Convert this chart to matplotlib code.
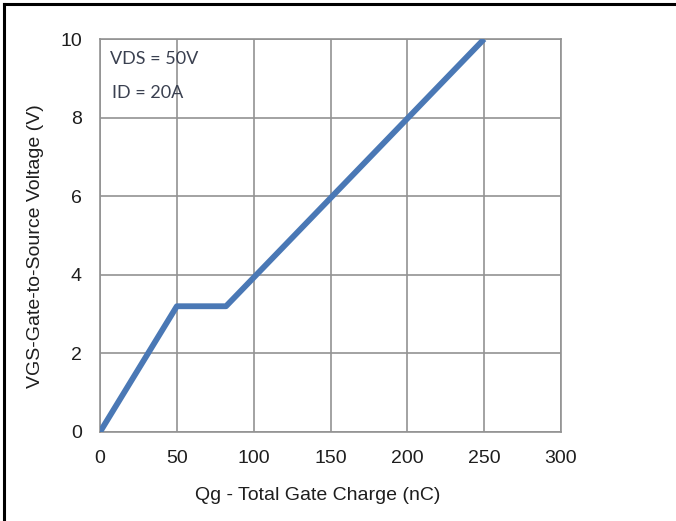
import matplotlib.pyplot as plt
from matplotlib.lines import Line2D

# Gate charge curve (Qg in nC, VGS in V)
qg = [0, 50, 82, 250]
vgs = [0, 3.2, 3.2, 10]

x_ticks = [0, 50, 100, 150, 200, 250, 300]
y_ticks = [0, 2, 4, 6, 8, 10]

conditions = ["VDS = 50V", "ID = 20A"]

plt.rcParams["font.family"] = ["Liberation Sans", "DejaVu Sans"]

fig = plt.figure(figsize=(6.76, 5.21), dpi=100)
ax = fig.add_axes([100 / 676, 89 / 521, 461 / 676, 393 / 521])

ax.plot(qg, vgs, color="#4a78b5", linewidth=4.2, solid_capstyle="butt", zorder=3)

ax.set_xlim(0, 300)
ax.set_ylim(0, 10)
ax.set_xticks(x_ticks)
ax.set_yticks(y_ticks)
ax.grid(True, color="#929292", linewidth=1.2)
ax.set_axisbelow(True)
for spine in ax.spines.values():
    spine.set_color("#929292")
    spine.set_linewidth(1.2)
ax.tick_params(length=0, labelsize=14, labelcolor="#1e1e1e")
ax.tick_params(axis="x", pad=13)
ax.tick_params(axis="y", pad=13)

ax.set_xlabel("Qg - Total Gate Charge (nC)", fontsize=14, color="#1e1e1e")
ax.set_ylabel("VGS-Gate-to-Source Voltage (V)", fontsize=14, color="#1e1e1e")
ax.xaxis.set_label_coords(0.473, -0.14)
ax.yaxis.set_label_coords(-0.121, 0.473)

ax.text(0.022, 0.95, conditions[0], transform=ax.transAxes, fontsize=13,
        family=["Lato", "DejaVu Sans"], color="#3a4050", va="center")
ax.text(0.026, 0.862, conditions[1], transform=ax.transAxes, fontsize=13,
        family=["Lato", "DejaVu Sans"], color="#3a4050", va="center")

# black frame along the top and left edges
fig.add_artist(Line2D([4 / 676, 1], [1 - 4 / 521, 1 - 4 / 521], transform=fig.transFigure,
                      color="black", linewidth=2.2))
fig.add_artist(Line2D([4 / 676, 4 / 676], [0, 1 - 4 / 521], transform=fig.transFigure,
                      color="black", linewidth=2.2))

fig.savefig("out.png", dpi=100)
